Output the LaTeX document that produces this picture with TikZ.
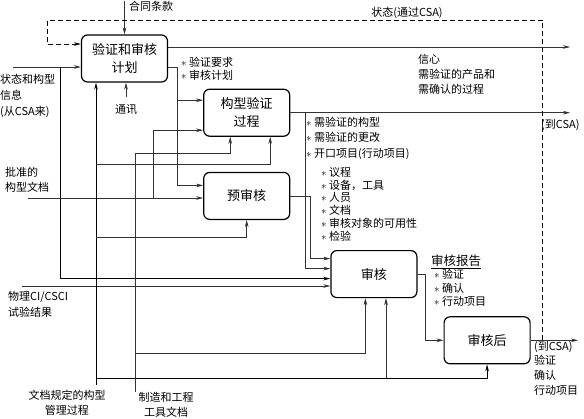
\documentclass[tikz,border=0pt]{standalone}
\usepackage{fontspec}
\setmainfont{Noto Sans CJK SC}
\usetikzlibrary{arrows.meta,positioning}

\begin{document}
\begin{tikzpicture}[
    x=1pt, y=-1pt,
    node distance=35pt,
    box/.style={
        rectangle,
        rounded corners=6pt,
        draw=black,
        line width=1.2pt,
        minimum width=86pt,
        minimum height=47pt,
        align=center,
        font=\fontsize{13}{18}\selectfont
    },
    wire/.style={
        draw=black!80,
        line width=0.6pt
    },
    arrow/.style={
        wire,
        -{Stealth[length=7pt,width=3.6pt]},
        #1
    },
    arrow/.default={},
    heavy/.style={
        line width=0.9pt,
        draw=black
    },
    fbline/.style={
        arrow,
        draw=black,
        dash pattern=on 5pt off 3pt
    },
    note/.style={
        inner sep=0pt,
        align=left,
        font=\fontsize{11}{#1}\selectfont
    },
    note/.default=15
]
\useasboundingbox (0,0) rectangle (584,418);
\fill[white] (0,0) rectangle (584,418);

% Boxes
\node[box] (plan) at (124.5,58.5) {验证和审核\\计划};
\node[box, below right=6pt and 35pt of plan.south east, anchor=north west] (cfgver) {构型验证\\过程};
\node[box, below=of cfgver] (prerev) {预审核};
\node[box, below right=30pt and 40pt of prerev.south east, anchor=north west] (audit) {审核};
\node[box, below right=18pt and 26pt of audit.south east, anchor=north west] (post) {审核后};

% Contract terms (top)
\coordinate (contractin) at (124.5,1);
\draw[arrow] (contractin) -- (plan.north);
\node[note, anchor=west] (contract) at (129,6) {合同条款};

% Status feedback (dashed)
\coordinate (fb) at ([xshift=11.5pt]post.east);
\coordinate (fbcorner) at (47,20);
\draw[fbline] (fb) |- (fbcorner) |- ([yshift=14.5pt]plan.west);
\node[note] (status) at (407,13) {状态(通过CSA)};

% Status and configuration info (left)
\coordinate (stin) at (13,67);
\coordinate (stdown) at (60,67);
\draw[arrow] (stin) -- (stin -| plan.west);
\draw[arrow=heavy] (stdown) |- ([yshift=-4.5pt]audit.west);
\node[note=16, anchor=north west] (stlbl) at (0,74) {状态和构型\\信息\\(从CSA来)};

% Approved configuration documents
\coordinate (appin) at (28,198);
\coordinate (appup) at (153,198);
\draw[arrow] (appin) -- (appin -| prerev.west);
\draw[arrow] (appup) |- ([yshift=-17.5pt]cfgver.west);
\node[note, anchor=north west] (applbl) at (5,167) {批准的\\构型文档};

% Physical CI/CSCI test results
\coordinate (ciin) at (22,286);
\draw[arrow] (ciin) -- (ciin -| audit.west);
\node[note=16, anchor=north west] (cilbl) at (8,291) {物理CI/CSCI\\试验结果};

% Documented CM process (bottom)
\coordinate (cmin) at (96,385);
\coordinate (cmA) at (96,164);
\coordinate (cmB) at (96,237);
\coordinate (cmC) at (96,378);
\coordinate (cmD) at (386,378);
\draw[arrow=heavy] (cmin) -- (cmin |- plan.south);
\draw[arrow] (cmA) -| ([xshift=23.5pt]cfgver.south);
\draw[arrow] (cmB) -| (prerev.south);
\draw[arrow=heavy] (cmC) -| (post.south);
\draw[arrow] (cmD) -- (cmD |- audit.south);
\node[note, align=center] (cmlbl) at (67,402.5) {文档规定的构型\\管理过程};

% Manufacturing and engineering tool documents
\coordinate (mfin) at (135,392);
\coordinate (mfA) at (135,153);
\coordinate (mfB) at (135,353);
\draw[arrow] (mfin) -- (mfA) -| ([xshift=-16.5pt]cfgver.south);
\draw[arrow] (mfB) -| ([xshift=-8.5pt]audit.south);
\node[note, align=center] (mflbl) at (166,404.5) {制造和工程\\工具文档};

% Communication
\node[note, anchor=north] (comm) at (126,104) {通讯};
\draw[arrow] ([yshift=7pt]comm.north) -- (comm.north |- plan.south);

% Plan outputs
\coordinate (conf) at (570,47);
\coordinate (reqs) at (177,67);
\draw[arrow] (plan.east |- conf) -- (conf);
\draw[wire] (plan.east |- reqs) -- (reqs);
\draw[arrow] (reqs) |- ([yshift=12.5pt]cfgver.west);
\draw[arrow] (reqs) |- ([yshift=10.5pt]prerev.west);
\node[note=13, anchor=north west] (reqlbl) at (181,56.5) {$\ast$ 验证要求\\$\ast$ 审核计划};
\node[note, anchor=north west] (conflbl) at (418,54) {信心\\需验证的产品和\\需确认的过程};

% Configuration verification outputs
\coordinate (tocsa) at (570,111.5);
\coordinate (cfgdown) at ([xshift=15pt]cfgver.east);
\draw[arrow] (cfgver.east) -- (cfgver.east -| tocsa);
\draw[arrow] (cfgdown) |- ([yshift=5.5pt]audit.west);
\node[note, anchor=west] (csalbl) at (541,125) {(到CSA)};
\node[note=15.5, anchor=north west] (cfglbl) at (306,116.5) {$\ast$ 需验证的构型\\$\ast$ 需验证的更改\\$\ast$ 开口项目(行动项目)};

% Pre-audit outputs
\coordinate (predown) at ([xshift=20pt]prerev.east);
\draw[arrow] (prerev.east) -- (predown) |- ([yshift=15.5pt]audit.west);
\node[note=12.8, anchor=north west] (prelbl) at (321,167) {$\ast$ 议程\\$\ast$ 设备，工具\\$\ast$ 人员\\$\ast$ 文档\\$\ast$ 审核对象的可用性\\$\ast$ 检验};

% Audit report
\coordinate (repdown) at ([xshift=8pt]audit.east);
\draw[arrow] (audit.east) -- (repdown) |- (post.west);
\node[note, anchor=west, font=\fontsize{12.5}{15}\selectfont] (replbl) at (431,262) {\underline{审核报告}};
\node[note=13.5, anchor=north west] (repitems) at (434,269) {$\ast$ 验证\\$\ast$ 确认\\$\ast$ 行动项目};

% Post-audit output
\coordinate (out) at (578,335);
\draw[arrow] (post.east) -- (post.east -| out);
\node[note=14.7, anchor=north west] (outlbl) at (534,341) {(到CSA)\\验证\\确认\\行动项目};

\end{tikzpicture}
\end{document}
